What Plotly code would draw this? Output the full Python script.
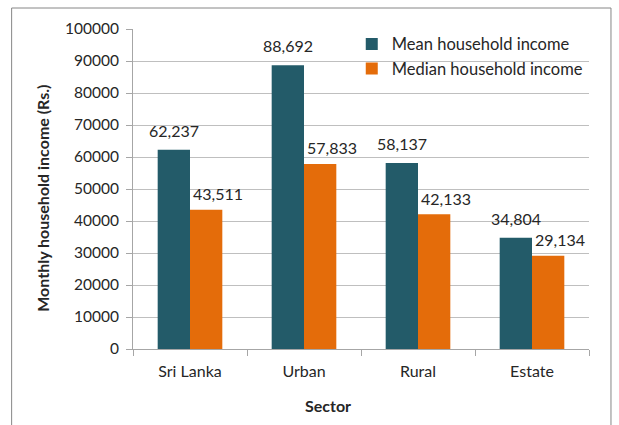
import plotly.graph_objects as go

sectors = ["Sri Lanka", "Urban", "Rural", "Estate"]
mean_income = [62237, 88692, 58137, 34804]
median_income = [43511, 57833, 42133, 29134]
y_ticks = [0, 10000, 20000, 30000, 40000, 50000, 60000, 70000, 80000, 90000, 100000]

FONT = "Lato, 'Open Sans', sans-serif"
TXT = "#262626"

# plot-area geometry (pixels)
L, R, T, B = 133, 589.5, 29.3, 349.3
W, H = 619, 425
pw, ph = R - L, B - T
bar_px = 32.4

fig = go.Figure()
fig.add_trace(go.Bar(x=sectors, y=mean_income, name="Mean household income",
                     marker=dict(color="#235B69", line=dict(width=0))))
fig.add_trace(go.Bar(x=sectors, y=median_income, name="Median household income",
                     marker=dict(color="#E46C0A", line=dict(width=0))))

annotations = []
for s, m, d in zip(sectors, mean_income, median_income):
    annotations.append(dict(x=s, y=m, xref="x", yref="y", text=f"{m:,}",
                            showarrow=False, xshift=-bar_px / 2, yanchor="bottom", yshift=8,
                            font=dict(size=16, color=TXT, family=FONT)))
    annotations.append(dict(x=s, y=d, xref="x", yref="y", text=f"{d:,}",
                            showarrow=False, xshift=bar_px / 2 + 12, yanchor="bottom", yshift=4.5,
                            font=dict(size=16, color=TXT, family=FONT)))
annotations.append(dict(x=(328 - L) / pw, y=(B - 405.7) / ph, xref="paper", yref="paper",
                        text="<b>Sector</b>", showarrow=False, xanchor="center", yanchor="middle",
                        font=dict(size=16, color=TXT, family=FONT)))
annotations.append(dict(x=(43 - L) / pw, y=(B - 199) / ph, xref="paper", yref="paper",
                        text="<b>Monthly household income (Rs.)</b>", showarrow=False, textangle=-90,
                        xanchor="center", yanchor="middle",
                        font=dict(size=16, color=TXT, family=FONT)))

fig.update_layout(
    width=W, height=H,
    margin=dict(l=L, r=W - R, t=T, b=H - B, autoexpand=False),
    paper_bgcolor="white", plot_bgcolor="white",
    font=dict(family=FONT, size=16, color=TXT),
    barmode="group", bargap=0.433, bargroupgap=0,
    showlegend=True,
    legend=dict(x=(352 - L) / pw, y=(B - 27) / ph, xanchor="left", yanchor="top",
                bgcolor="rgba(0,0,0,0)", font=dict(size=16.5, color=TXT),
                tracegroupgap=0),
    xaxis=dict(showline=True, linecolor="#A6A6A6", linewidth=1, automargin=False,
               ticks="outside", ticklen=6, tickcolor="#A6A6A6", tickson="boundaries",
               ticklabelstandoff=8, tickfont=dict(size=16)),
    yaxis=dict(range=[0, 100000], tickvals=y_ticks, ticktext=[str(v) for v in y_ticks],
               showline=True, linecolor="#A6A6A6", linewidth=1, automargin=False,
               ticks="outside", ticklen=6, tickcolor="#A6A6A6",
               showgrid=True, gridcolor="#BFBFBF", gridwidth=1,
               ticklabelstandoff=4, tickfont=dict(size=15.5)),
    annotations=annotations,
    shapes=[dict(type="rect", xref="paper", yref="paper",
                 x0=(11.5 - L) / pw, x1=(611.5 - L) / pw,
                 y0=(B - 440) / ph, y1=(B - 8.3) / ph,
                 line=dict(color="#868686", width=1), layer="below")],
)

fig.write_html("out.html", config={"displayModeBar": False},
               post_script="document.body.style.margin='0px';")
